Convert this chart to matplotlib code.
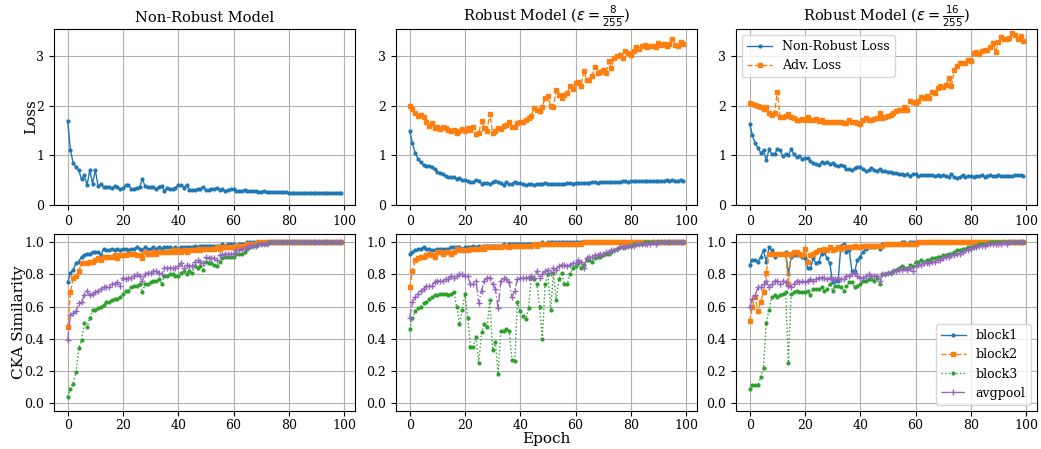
import matplotlib
matplotlib.use("Agg")
import matplotlib.pyplot as plt
import numpy as np

plt.rcParams['font.family'] = 'DejaVu Serif'
plt.rcParams['font.size'] = 9

epochs = list(range(100))

# ---- Loss (top row) ----
nonrobust_loss_plain = [
    1.70,1.10,0.85,0.76,0.70,0.52,0.60,0.40,0.70,0.43,
    0.70,0.38,0.42,0.36,0.37,0.37,0.34,0.38,0.36,0.32,
    0.34,0.40,0.40,0.32,0.33,0.35,0.36,0.52,0.38,0.37,
    0.36,0.36,0.32,0.37,0.39,0.28,0.35,0.33,0.32,0.35,
    0.40,0.40,0.35,0.40,0.31,0.31,0.31,0.32,0.32,0.36,
    0.31,0.30,0.32,0.32,0.35,0.31,0.32,0.28,0.30,0.32,
    0.32,0.28,0.29,0.29,0.30,0.29,0.28,0.28,0.29,0.27,
    0.27,0.28,0.27,0.27,0.27,0.26,0.26,0.26,0.26,0.26,
    0.25,0.25,0.25,0.25,0.25,0.25,0.25,0.25,0.25,0.25,
    0.25,0.25,0.25,0.25,0.25,0.25,0.25,0.25,0.25,0.25]

nonrobust_loss_eps8 = [
    1.50,1.24,1.05,0.93,0.86,0.80,0.78,0.78,0.76,0.72,
    0.66,0.64,0.62,0.58,0.56,0.56,0.57,0.53,0.54,0.51,
    0.50,0.48,0.47,0.47,0.50,0.49,0.43,0.45,0.45,0.42,
    0.46,0.48,0.46,0.44,0.40,0.46,0.42,0.43,0.47,0.44,
    0.44,0.42,0.41,0.42,0.42,0.40,0.43,0.42,0.43,0.44,
    0.43,0.42,0.43,0.43,0.42,0.43,0.43,0.44,0.44,0.43,
    0.45,0.44,0.44,0.45,0.44,0.45,0.46,0.47,0.45,0.46,
    0.46,0.47,0.46,0.47,0.46,0.47,0.47,0.48,0.48,0.47,
    0.48,0.48,0.48,0.49,0.48,0.49,0.49,0.49,0.49,0.48,
    0.49,0.48,0.49,0.50,0.49,0.50,0.49,0.49,0.50,0.48]

adv_loss_eps8 = [
    2.00,1.94,1.85,1.80,1.82,1.78,1.67,1.60,1.66,1.55,
    1.58,1.53,1.58,1.55,1.52,1.50,1.52,1.44,1.50,1.54,
    1.50,1.56,1.52,1.58,1.42,1.45,1.70,1.55,1.50,1.84,
    1.45,1.50,1.55,1.53,1.60,1.62,1.68,1.58,1.58,1.66,
    1.67,1.68,1.72,1.75,1.80,1.96,1.92,1.90,1.97,2.16,
    2.20,2.00,1.97,2.32,2.22,2.15,2.22,2.25,2.40,2.33,
    2.45,2.48,2.40,2.70,2.52,2.52,2.60,2.78,2.65,2.68,
    2.72,2.65,2.90,2.76,2.96,3.00,3.03,2.96,3.10,3.06,
    3.03,3.10,3.18,3.14,3.20,3.22,3.18,3.20,3.20,3.18,
    3.26,3.22,3.24,3.20,3.25,3.35,3.22,3.20,3.28,3.24]

nonrobust_loss_eps16 = [
    1.64,1.40,1.24,1.15,1.05,1.10,0.90,1.12,1.02,1.02,
    1.13,1.10,0.98,1.02,1.00,1.12,1.02,0.96,0.98,0.93,
    0.94,0.95,0.88,0.85,0.82,0.81,0.86,0.84,0.86,0.82,
    0.85,0.80,0.78,0.80,0.79,0.72,0.72,0.70,0.74,0.76,
    0.77,0.72,0.68,0.70,0.74,0.70,0.68,0.73,0.68,0.68,
    0.66,0.66,0.64,0.64,0.62,0.62,0.60,0.63,0.58,0.62,
    0.63,0.58,0.60,0.60,0.60,0.60,0.60,0.58,0.60,0.58,
    0.60,0.58,0.57,0.62,0.56,0.55,0.56,0.60,0.56,0.58,
    0.58,0.57,0.58,0.58,0.60,0.57,0.58,0.60,0.58,0.59,
    0.60,0.59,0.59,0.58,0.59,0.59,0.60,0.61,0.60,0.59]

adv_loss_eps16 = [
    2.06,2.03,2.02,2.00,1.97,1.93,1.97,1.86,1.82,1.85,
    2.28,1.78,1.78,1.80,1.84,1.78,1.76,1.72,1.72,1.73,
    1.72,1.78,1.72,1.72,1.73,1.70,1.72,1.68,1.68,1.67,
    1.68,1.68,1.67,1.68,1.65,1.66,1.72,1.68,1.68,1.66,
    1.64,1.72,1.76,1.72,1.72,1.74,1.76,1.86,1.76,1.78,
    1.80,1.82,1.86,1.90,1.92,1.92,1.98,1.92,2.10,2.08,
    2.06,2.10,2.17,2.16,2.20,2.16,2.27,2.26,2.36,2.40,
    2.38,2.42,2.56,2.40,2.72,2.80,2.85,2.86,2.86,2.92,
    2.90,3.06,3.08,3.04,3.10,3.12,3.12,3.18,3.26,3.08,
    3.28,3.38,3.34,3.34,3.36,3.46,3.42,3.34,3.40,3.30]

# ---- CKA similarity (bottom row) ----
plain_block1 = [
    0.75,0.81,0.83,0.87,0.88,0.91,0.92,0.93,0.93,0.94,
    0.94,0.94,0.92,0.96,0.95,0.95,0.96,0.95,0.96,0.95,
    0.96,0.96,0.95,0.96,0.96,0.97,0.96,0.95,0.97,0.96,
    0.96,0.97,0.96,0.97,0.96,0.97,0.97,0.97,0.96,0.97,
    0.96,0.97,0.97,0.97,0.97,0.97,0.98,0.97,0.98,0.98,
    0.98,0.98,0.98,0.98,0.98,0.98,0.99,0.98,0.99,0.99,
    0.99,0.98,0.99,0.99,0.99,1.00,1.00,1.00,1.00,1.00,
    1.00,1.00,1.00,1.00,1.00,1.00,1.00,1.00,1.00,1.00,
    1.00,1.00,1.00,1.00,1.00,1.00,1.00,1.00,1.00,1.00,
    1.00,1.00,1.00,1.00,1.00,1.00,1.00,1.00,1.00,1.00]
plain_block2 = [
    0.47,0.69,0.78,0.79,0.82,0.87,0.87,0.87,0.88,0.88,
    0.89,0.90,0.89,0.91,0.91,0.91,0.91,0.92,0.90,0.92,
    0.92,0.92,0.93,0.93,0.93,0.92,0.92,0.90,0.94,0.93,
    0.93,0.94,0.93,0.94,0.94,0.94,0.94,0.94,0.95,0.94,
    0.95,0.94,0.95,0.94,0.95,0.95,0.95,0.96,0.95,0.96,
    0.96,0.96,0.96,0.96,0.97,0.96,0.97,0.97,0.97,0.97,
    0.97,0.98,0.98,0.98,0.98,0.99,0.99,0.99,0.99,1.00,
    1.00,1.00,1.00,1.00,1.00,1.00,1.00,1.00,1.00,1.00,
    1.00,1.00,1.00,1.00,1.00,1.00,1.00,1.00,1.00,1.00,
    1.00,1.00,1.00,1.00,1.00,1.00,1.00,1.00,1.00,1.00]
plain_block3 = [
    0.04,0.09,0.12,0.19,0.34,0.39,0.50,0.47,0.53,0.58,
    0.58,0.59,0.60,0.61,0.63,0.63,0.64,0.65,0.65,0.66,
    0.68,0.70,0.70,0.72,0.73,0.73,0.74,0.69,0.74,0.74,
    0.75,0.76,0.76,0.77,0.74,0.79,0.79,0.80,0.80,0.79,
    0.79,0.81,0.82,0.80,0.82,0.81,0.85,0.84,0.85,0.83,
    0.88,0.87,0.87,0.86,0.85,0.88,0.90,0.91,0.91,0.91,
    0.91,0.93,0.93,0.93,0.94,0.96,0.97,0.98,0.98,0.99,
    0.99,0.99,0.99,1.00,1.00,1.00,1.00,1.00,1.00,1.00,
    1.00,1.00,1.00,1.00,1.00,1.00,1.00,1.00,1.00,1.00,
    1.00,1.00,1.00,1.00,1.00,1.00,1.00,1.00,1.00,1.00]
plain_avgpool = [
    0.39,0.55,0.56,0.57,0.62,0.63,0.67,0.70,0.67,0.68,
    0.69,0.70,0.71,0.72,0.72,0.72,0.74,0.74,0.75,0.73,
    0.78,0.77,0.78,0.78,0.79,0.80,0.79,0.76,0.80,0.81,
    0.81,0.82,0.82,0.81,0.80,0.84,0.84,0.84,0.84,0.84,
    0.85,0.87,0.84,0.86,0.85,0.85,0.88,0.89,0.88,0.87,
    0.91,0.90,0.90,0.90,0.89,0.92,0.92,0.93,0.93,0.93,
    0.93,0.95,0.95,0.96,0.96,0.97,0.98,0.98,0.98,0.99,
    0.99,0.99,0.99,1.00,1.00,1.00,1.00,1.00,1.00,1.00,
    1.00,1.00,1.00,1.00,1.00,1.00,1.00,1.00,1.00,1.00,
    1.00,1.00,1.00,1.00,1.00,1.00,1.00,1.00,1.00,1.00]

eps8_block1 = [
    0.93,0.94,0.95,0.96,0.96,0.97,0.96,0.96,0.95,0.95,
    0.96,0.96,0.96,0.96,0.96,0.97,0.97,0.97,0.97,0.96,
    0.97,0.97,0.97,0.98,0.97,0.98,0.97,0.98,0.98,0.98,
    0.98,0.98,0.98,0.98,0.99,0.98,0.99,0.99,0.99,0.99,
    0.99,0.99,0.99,0.99,0.99,0.99,0.99,0.99,1.00,0.99,
    1.00,1.00,1.00,1.00,1.00,1.00,1.00,1.00,1.00,1.00,
    1.00,1.00,1.00,1.00,1.00,1.00,1.00,1.00,1.00,1.00,
    1.00,1.00,1.00,1.00,1.00,1.00,1.00,1.00,1.00,1.00,
    1.00,1.00,1.00,1.00,1.00,1.00,1.00,1.00,1.00,1.00,
    1.00,1.00,1.00,1.00,1.00,1.00,1.00,1.00,1.00,1.00]
eps8_block2 = [
    0.72,0.82,0.89,0.90,0.91,0.91,0.92,0.93,0.92,0.91,
    0.94,0.94,0.93,0.94,0.94,0.93,0.94,0.96,0.95,0.95,
    0.95,0.95,0.96,0.96,0.96,0.96,0.97,0.96,0.97,0.97,
    0.97,0.97,0.97,0.97,0.98,0.98,0.97,0.98,0.98,0.98,
    0.98,0.98,0.98,0.98,0.98,0.99,0.98,0.99,0.99,0.99,
    0.99,0.99,0.99,0.99,0.99,0.99,0.99,0.99,0.99,0.99,
    0.99,0.99,0.99,1.00,1.00,1.00,1.00,1.00,1.00,1.00,
    1.00,1.00,1.00,1.00,1.00,1.00,1.00,1.00,1.00,1.00,
    1.00,1.00,1.00,1.00,1.00,1.00,1.00,1.00,1.00,1.00,
    1.00,1.00,1.00,1.00,1.00,1.00,1.00,1.00,1.00,1.00]
eps8_block3 = [
    0.46,0.53,0.57,0.59,0.60,0.62,0.63,0.65,0.66,0.67,
    0.67,0.68,0.68,0.68,0.67,0.68,0.69,0.60,0.49,0.58,
    0.68,0.53,0.35,0.35,0.41,0.25,0.44,0.49,0.47,0.64,
    0.33,0.38,0.18,0.45,0.45,0.46,0.45,0.27,0.26,0.63,
    0.57,0.54,0.52,0.59,0.78,0.77,0.74,0.60,0.40,0.74,
    0.80,0.58,0.81,0.64,0.77,0.81,0.74,0.74,0.80,0.84,
    0.85,0.87,0.84,0.86,0.89,0.89,0.88,0.90,0.91,0.91,
    0.92,0.93,0.93,0.94,0.95,0.96,0.97,0.97,0.97,0.98,
    0.98,0.99,0.99,0.99,0.99,1.00,1.00,1.00,1.00,1.00,
    1.00,1.00,1.00,1.00,1.00,1.00,1.00,1.00,1.00,1.00]
eps8_avgpool = [
    0.53,0.63,0.66,0.68,0.70,0.71,0.73,0.73,0.73,0.75,
    0.76,0.76,0.76,0.77,0.77,0.79,0.78,0.79,0.80,0.80,
    0.79,0.79,0.74,0.74,0.76,0.62,0.70,0.76,0.78,0.78,
    0.74,0.71,0.59,0.76,0.78,0.77,0.75,0.66,0.70,0.77,
    0.78,0.78,0.78,0.78,0.79,0.78,0.82,0.78,0.80,0.82,
    0.83,0.81,0.84,0.83,0.85,0.86,0.86,0.85,0.86,0.87,
    0.87,0.89,0.88,0.84,0.90,0.91,0.91,0.92,0.92,0.93,
    0.93,0.94,0.94,0.95,0.95,0.96,0.97,0.97,0.97,0.98,
    0.98,0.98,0.99,0.99,0.99,0.99,0.99,0.99,1.00,0.99,
    1.00,1.00,1.00,1.00,1.00,1.00,1.00,1.00,1.00,1.00]

eps16_block1 = [
    0.86,0.89,0.89,0.88,0.91,0.95,0.88,0.97,0.95,0.91,
    0.93,0.93,0.93,0.94,0.80,0.91,0.92,0.92,0.92,0.91,
    0.90,0.84,0.84,0.90,0.87,0.88,0.93,0.94,0.90,0.87,
    0.75,0.76,0.76,0.98,0.99,0.94,0.95,0.82,0.82,0.89,
    0.91,0.94,0.96,0.97,0.97,0.97,0.98,0.96,0.99,0.99,
    0.99,0.99,0.99,0.99,0.99,1.00,1.00,0.99,1.00,1.00,
    1.00,1.00,1.00,1.00,1.00,1.00,1.00,1.00,1.00,1.00,
    1.00,1.00,1.00,1.00,1.00,1.00,1.00,1.00,1.00,1.00,
    1.00,1.00,1.00,1.00,1.00,1.00,1.00,1.00,1.00,1.00,
    1.00,1.00,1.00,1.00,1.00,1.00,1.00,1.00,1.00,1.00]
eps16_block2 = [
    0.51,0.60,0.66,0.57,0.63,0.69,0.81,0.93,0.93,0.93,
    0.93,0.93,0.93,0.93,0.74,0.93,0.94,0.94,0.93,0.92,
    0.96,0.88,0.92,0.93,0.94,0.95,0.95,0.96,0.95,0.97,
    0.95,0.96,0.97,0.96,0.97,0.97,0.97,0.97,0.98,0.97,
    0.97,0.98,0.98,0.98,0.98,0.98,0.98,0.98,0.98,0.99,
    0.99,0.99,0.99,0.99,0.99,0.99,0.99,0.99,0.99,0.99,
    0.99,1.00,1.00,1.00,1.00,1.00,1.00,1.00,1.00,1.00,
    1.00,1.00,1.00,1.00,1.00,1.00,1.00,1.00,1.00,1.00,
    1.00,1.00,1.00,1.00,1.00,1.00,1.00,1.00,1.00,1.00,
    1.00,1.00,1.00,1.00,1.00,1.00,1.00,1.00,1.00,1.00]
eps16_block3 = [
    0.09,0.11,0.11,0.11,0.16,0.22,0.50,0.58,0.66,0.67,
    0.66,0.67,0.68,0.69,0.25,0.68,0.69,0.70,0.69,0.69,
    0.69,0.70,0.67,0.71,0.71,0.71,0.72,0.70,0.71,0.74,
    0.70,0.73,0.73,0.72,0.70,0.73,0.75,0.75,0.72,0.73,
    0.74,0.76,0.76,0.77,0.77,0.76,0.78,0.74,0.80,0.80,
    0.81,0.81,0.82,0.83,0.84,0.85,0.84,0.84,0.86,0.85,
    0.88,0.88,0.89,0.88,0.89,0.89,0.90,0.90,0.91,0.91,
    0.92,0.92,0.93,0.93,0.94,0.95,0.95,0.96,0.96,0.97,
    0.97,0.98,0.98,0.99,0.99,0.99,0.99,1.00,1.00,1.00,
    1.00,1.00,1.00,1.00,1.00,1.00,1.00,1.00,1.00,1.00]
eps16_avgpool = [
    0.60,0.65,0.67,0.72,0.72,0.74,0.76,0.72,0.74,0.76,
    0.76,0.74,0.76,0.75,0.73,0.72,0.74,0.76,0.75,0.76,
    0.75,0.76,0.77,0.76,0.77,0.78,0.78,0.78,0.77,0.78,
    0.77,0.77,0.78,0.77,0.77,0.79,0.79,0.80,0.81,0.79,
    0.78,0.78,0.79,0.80,0.79,0.79,0.79,0.76,0.80,0.80,
    0.81,0.81,0.82,0.82,0.83,0.83,0.84,0.83,0.84,0.82,
    0.85,0.86,0.86,0.87,0.87,0.87,0.88,0.88,0.89,0.89,
    0.90,0.91,0.91,0.92,0.92,0.93,0.93,0.94,0.95,0.95,
    0.96,0.97,0.97,0.98,0.98,0.98,0.99,0.99,0.99,0.99,
    0.99,0.99,1.00,0.99,1.00,1.00,1.00,1.00,1.00,1.00]

titles = ["Non-Robust Model",
          r"Robust Model ($\epsilon = \frac{8}{255}$)",
          r"Robust Model ($\epsilon = \frac{16}{255}$)"]
loss_nonrobust = [nonrobust_loss_plain, nonrobust_loss_eps8, nonrobust_loss_eps16]
loss_adv = [None, adv_loss_eps8, adv_loss_eps16]
cka = [
    [plain_block1, plain_block2, plain_block3, plain_avgpool],
    [eps8_block1, eps8_block2, eps8_block3, eps8_avgpool],
    [eps16_block1, eps16_block2, eps16_block3, eps16_avgpool],
]
cka_labels = ["block1", "block2", "block3", "avgpool"]
cka_styles = [
    dict(color="C0", marker=".", linestyle="-", markersize=4),
    dict(color="C1", marker="s", linestyle="--", markersize=2.5),
    dict(color="C2", marker=".", linestyle=":", markersize=4),
    dict(color="C4", marker="+", linestyle="-.", markersize=4),
]

fig = plt.figure(figsize=(10.41, 4.49), dpi=100)
W, H = 1041, 449
lefts = [54, 396, 736]
width = 301
top_row = (28.7, 205)
bot_row = (234.3, 411)

for i in range(3):
    ax = fig.add_axes([lefts[i] / W, 1 - top_row[1] / H, width / W, (top_row[1] - top_row[0]) / H])
    ax.plot(epochs, loss_nonrobust[i], color="C0", marker=".", linestyle="-",
            markersize=4, linewidth=1, label="Non-Robust Loss")
    if loss_adv[i] is not None:
        ax.plot(epochs, loss_adv[i], color="C1", marker="s", linestyle="--",
                markersize=2.5, linewidth=1, label="Adv. Loss")
    ax.set_ylim(0, 3.55)
    ax.set_yticks([0, 1, 2, 3])
    ax.set_xticks([0, 20, 40, 60, 80, 100])
    ax.grid(True)
    ax.set_title(titles[i], fontsize=10.5, pad=5)
    if i == 0:
        ax.set_ylabel("Loss", fontsize=11, labelpad=-1)
    if i == 2:
        ax.legend(loc="upper left", fontsize=9)

    bx = fig.add_axes([lefts[i] / W, 1 - bot_row[1] / H, width / W, (bot_row[1] - bot_row[0]) / H])
    for vals, lab, st in zip(cka[i], cka_labels, cka_styles):
        bx.plot(epochs, vals, linewidth=1, label=lab, **st)
    bx.set_ylim(-0.05, 1.05)
    bx.set_yticks([0.0, 0.2, 0.4, 0.6, 0.8, 1.0])
    bx.set_xticks([0, 20, 40, 60, 80, 100])
    bx.tick_params(axis='x', pad=2.5)
    bx.grid(True)
    if i == 0:
        bx.set_ylabel("CKA Similarity", fontsize=11, labelpad=-1)
    if i == 1:
        bx.set_xlabel("Epoch", fontsize=11, labelpad=0)
    if i == 2:
        bx.legend(loc="lower right", fontsize=9)

fig.savefig("out.png", dpi=100)
